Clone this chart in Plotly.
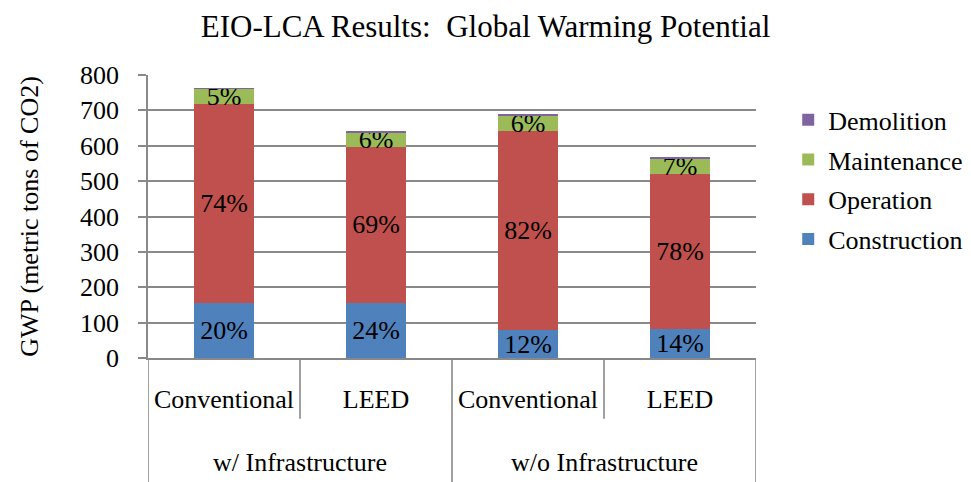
import plotly.graph_objects as go

# ---- data ----
groups = ["w/ Infrastructure", "w/ Infrastructure", "w/o Infrastructure", "w/o Infrastructure"]
group_labels = ["w/ Infrastructure", "w/o Infrastructure"]
categories = ["Conventional", "LEED", "Conventional", "LEED"]
construction = [155, 155, 78, 81]
operation = [564, 442, 564, 440]
maintenance = [42, 41, 43, 43]
demolition = [2, 2, 2, 2]
construction_pct = ["20%", "24%", "12%", "14%"]
operation_pct = ["74%", "69%", "82%", "78%"]
maintenance_pct = ["5%", "6%", "6%", "7%"]
y_ticks = [0, 100, 200, 300, 400, 500, 600, 700, 800]

FONT = "Times New Roman, Liberation Serif, serif"
GRID = "#898989"
idx = list(range(len(categories)))

fig = go.Figure()
series = [
    ("Construction", construction, construction_pct, "#4F81BD"),
    ("Operation", operation, operation_pct, "#C0504D"),
    ("Maintenance", maintenance, maintenance_pct, "#9BBB59"),
    ("Demolition", demolition, [""] * 4, "#8064A2"),
]
n = len(series)
for k, (name, vals, txt, col) in enumerate(series):
    fig.add_trace(go.Bar(
        name=name, x=idx, y=vals, text=txt, legendgroup=name,
        legendrank=n - k,
        textposition="inside", insidetextanchor="middle",
        textfont=dict(family=FONT, size=26, color="black"),
        marker=dict(color=col, line=dict(width=0)),
        hoverinfo="skip",
    ))

# divider lines below the axis
shapes = []
for i in range(len(categories) - 1):
    b = i + 0.5
    depth = -0.215 if groups[i] == groups[i + 1] else -0.44
    shapes.append(dict(type="line", xref="x", yref="paper", x0=b, x1=b,
                       y0=0, y1=depth, line=dict(color=GRID, width=1.6)))
for b in (-0.5, len(categories) - 0.5):
    shapes.append(dict(type="line", xref="x", yref="paper", x0=b, x1=b,
                       y0=0, y1=-0.44, line=dict(color=GRID, width=1.6)))

# group labels
annotations = []
for g in group_labels:
    members = [i for i, gg in enumerate(groups) if gg == g]
    annotations.append(dict(x=sum(members) / len(members), y=-0.37, xref="x", yref="paper",
                            text=g, showarrow=False, yanchor="middle",
                            font=dict(family=FONT, size=26, color="black")))

fig.update_layout(
    width=971, height=482,
    margin=dict(l=148, r=215, t=75, b=124, autoexpand=False),
    paper_bgcolor="white", plot_bgcolor="white",
    barmode="stack", bargap=0.6,
    font=dict(family=FONT, size=26, color="black"),
    title=dict(text="EIO-LCA Results:\u00a0 Global Warming Potential", x=0.5, xanchor="center",
               y=0.945, yanchor="middle", font=dict(family=FONT, size=31, color="black")),
    uniformtext=dict(minsize=26, mode="show"),
    showlegend=True,
    legend=dict(x=1.053, xanchor="left", y=0.925, yanchor="top", traceorder="grouped",
                tracegroupgap=3,
                font=dict(family=FONT, size=26, color="black"),
                itemwidth=30, bgcolor="rgba(0,0,0,0)"),
    shapes=shapes,
    annotations=annotations,
)
fig.update_xaxes(
    tickmode="array", tickvals=idx, ticktext=categories,
    range=[-0.5, len(categories) - 0.5],
    showgrid=False, zeroline=False,
    showline=True, linecolor=GRID, linewidth=1.6,
    ticks="outside", ticklen=17, tickcolor="rgba(0,0,0,0)",
    tickfont=dict(family=FONT, size=26, color="black"),
)
fig.update_yaxes(
    range=[0, 800], tickmode="array", tickvals=y_ticks,
    showgrid=True, gridcolor=GRID, gridwidth=1.6,
    zeroline=False, showline=True, linecolor=GRID, linewidth=1.6,
    ticks="outside", ticklen=8, tickcolor=GRID, tickwidth=1.6,
    ticklabelstandoff=14,
    tickfont=dict(family=FONT, size=26, color="black"),
    title=dict(text="GWP (metric tons of CO2)", standoff=34,
               font=dict(family=FONT, size=26, color="black")),
)

fig.write_html("out.html")
